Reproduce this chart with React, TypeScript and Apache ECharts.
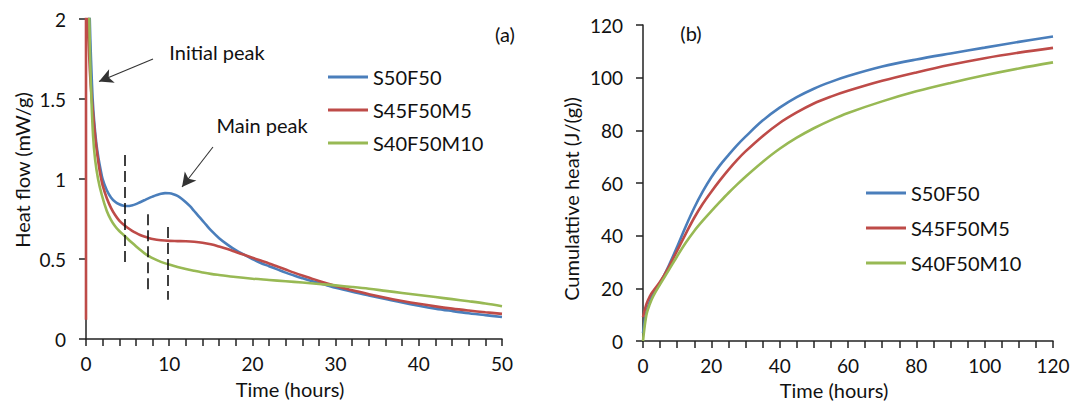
import React, { useEffect, useRef } from "react";
import * as echarts from "echarts";

// Series names shared by both panels
const seriesNames = ["S50F50", "S45F50M5", "S40F50M10"];
const seriesColors = ["#4A7EBB", "#BE4B48", "#98B954"];

// (a) Heat flow (mW/g) versus time (hours)
const flowTimeS50F50 = [0.3, 0.45, 0.6, 0.8, 1, 1.25, 1.5, 1.75, 2, 2.5, 3, 3.5, 4, 4.5, 5, 5.5, 6, 6.5, 7, 7.5, 8, 8.5, 9, 9.5, 10, 10.5, 11, 11.5, 12, 12.5, 13, 13.5, 14, 14.5, 15, 16, 17, 18, 19, 20, 21, 22, 23, 24, 25, 26, 27, 28, 29, 30, 32, 34, 36, 38, 40, 42, 44, 46, 48, 50];
const flowS50F50 = [2.4, 2.0, 1.75, 1.5, 1.35, 1.22, 1.13, 1.06, 1.0, 0.93, 0.885, 0.858, 0.842, 0.833, 0.831, 0.835, 0.843, 0.855, 0.867, 0.879, 0.89, 0.9, 0.908, 0.912, 0.911, 0.905, 0.894, 0.877, 0.855, 0.83, 0.8, 0.77, 0.74, 0.71, 0.68, 0.63, 0.59, 0.555, 0.527, 0.5, 0.475, 0.455, 0.435, 0.415, 0.397, 0.38, 0.364, 0.35, 0.335, 0.32, 0.295, 0.272, 0.25, 0.228, 0.208, 0.19, 0.175, 0.161, 0.149, 0.138];

const flowTimeS45F50M5 = [0, 0, 0.25, 0.4, 0.55, 0.7, 0.9, 1.2, 1.5, 1.75, 2, 2.5, 3, 3.5, 4, 4.5, 5, 5.5, 6, 6.5, 7, 7.5, 8, 9, 10, 11, 12, 13, 14, 15, 16, 17, 18, 19, 20, 21, 22, 23, 24, 25, 26, 27, 28, 29, 30, 32, 34, 36, 38, 40, 42, 44, 46, 48, 50];
const flowS45F50M5 = [0.12, 2.5, 2.0, 1.75, 1.6, 1.5, 1.38, 1.22, 1.1, 1.02, 0.96, 0.88, 0.82, 0.775, 0.74, 0.715, 0.695, 0.678, 0.663, 0.65, 0.64, 0.632, 0.625, 0.617, 0.613, 0.612, 0.611, 0.608, 0.602, 0.592, 0.578, 0.562, 0.544, 0.526, 0.508, 0.49, 0.472, 0.453, 0.434, 0.415, 0.397, 0.38, 0.363, 0.347, 0.332, 0.304, 0.28, 0.258, 0.238, 0.22, 0.204, 0.19, 0.178, 0.167, 0.157];

const flowTimeS40F50M10 = [0.3, 0.4, 0.5, 0.65, 0.85, 1.1, 1.45, 1.9, 2.5, 3, 3.5, 4, 4.5, 5, 5.5, 6, 6.5, 7, 7.5, 8, 9, 10, 11, 12, 13, 14, 15, 16, 18, 20, 22, 24, 26, 28, 30, 32, 34, 36, 38, 40, 42, 44, 46, 48, 50];
const flowS40F50M10 = [2.4, 2.0, 1.75, 1.5, 1.27, 1.12, 1.0, 0.9, 0.8, 0.745, 0.705, 0.675, 0.652, 0.627, 0.603, 0.58, 0.558, 0.537, 0.52, 0.505, 0.482, 0.465, 0.45, 0.437, 0.426, 0.416, 0.407, 0.4, 0.387, 0.377, 0.369, 0.361, 0.353, 0.344, 0.335, 0.325, 0.314, 0.301, 0.288, 0.275, 0.262, 0.249, 0.236, 0.222, 0.205];

// (b) Cumulative heat (J/g) versus time (hours)
const cumTime = [0, 1, 2, 3, 5, 7.5, 10, 12.5, 15, 17.5, 20, 22.5, 25, 27.5, 30, 35, 40, 45, 50, 55, 60, 70, 80, 90, 100, 110, 120];
const cumS50F50 = [3, 11, 15, 18, 22, 28.5, 35.8, 43.5, 50.6, 56.8, 62.2, 66.7, 70.6, 74.3, 77.6, 83.7, 88.6, 92.6, 95.8, 98.4, 100.6, 104.2, 106.9, 109.2, 111.4, 113.6, 115.6];
const cumS45F50M5 = [9, 14, 17, 19, 22.5, 28, 34.3, 40.7, 46.8, 52.1, 56.7, 61, 65, 68.7, 72, 77.8, 82.8, 86.8, 90.2, 92.8, 95, 98.8, 102, 104.9, 107.4, 109.5, 111.3];
const cumS40F50M10 = [0, 10, 14, 17, 21.5, 26.8, 32.2, 37.3, 41.8, 45.7, 49.3, 52.8, 56.2, 59.4, 62.4, 68, 73, 77.2, 80.8, 83.9, 86.6, 91, 94.8, 98, 100.9, 103.5, 105.8];

// Dashed markers on panel (a): [time, top, bottom]
const dashMarkers = [
  [4.6, 1.15, 0.45],
  [7.45, 0.78, 0.29],
  [9.85, 0.7, 0.245],
];

// Annotation arrows on panel (a): [fromX, fromY, toX, toY]
const arrowInitialPeak = [8.05, 1.75, 1.56, 1.61];
const arrowMainPeak = [15.26, 1.2, 11.54, 0.95];

const FONT = "Lato, 'Open Sans', sans-serif";
const TEXT = "#111111";
const AXIS = "#222222";

const zip = (xs: number[], ys: number[]) => xs.map((x, i) => [x, ys[i]]);

export default function App() {
  const ref = useRef<HTMLDivElement>(null);

  useEffect(() => {
    if (!ref.current) return;
    const chart = echarts.init(ref.current, undefined, { renderer: "svg" });

    const axisCommon = {
      axisLine: { show: true, lineStyle: { color: AXIS, width: 1.5 } },
      axisTick: { show: true, length: 7, lineStyle: { color: AXIS, width: 1.5 } },
      axisLabel: { color: TEXT, fontSize: 19, fontFamily: FONT },
      splitLine: { show: false },
    };

    const lineCommon = {
      type: "line" as const,
      showSymbol: false,
      symbol: "none",
      smooth: 0.35,
      clip: true,
      lineStyle: { width: 2.6 },
    };

    const flowData = [
      zip(flowTimeS50F50, flowS50F50),
      zip(flowTimeS45F50M5, flowS45F50M5),
      zip(flowTimeS40F50M10, flowS40F50M10),
    ];
    const cumData = [
      zip(cumTime, cumS50F50),
      zip(cumTime, cumS45F50M5),
      zip(cumTime, cumS40F50M10),
    ];

    const dashLines = dashMarkers.map(([x, y1, y2]) => [
      { coord: [x, y1] },
      { coord: [x, y2] },
    ]);
    const arrows = [arrowInitialPeak, arrowMainPeak].map(([x1, y1, x2, y2]) => [
      { coord: [x1, y1] },
      { coord: [x2, y2] },
    ]);

    const legendCommon = {
      data: seriesNames,
      orient: "vertical" as const,
      icon: "rect",
      itemWidth: 40,
      itemHeight: 3,
      padding: 0,
      textStyle: { color: TEXT, fontSize: 20, fontFamily: FONT, lineHeight: 20 },
    };

    const textEl = (text: string, x: number, y: number, rotation = 0) => ({
      type: "text",
      x,
      y,
      rotation,
      style: {
        text,
        fill: TEXT,
        font: `20px ${FONT}`,
        textAlign: "center",
        textVerticalAlign: "middle",
      },
    });

    chart.setOption({
      animation: false,
      backgroundColor: "#ffffff",
      color: seriesColors,
      grid: [
        { left: 86, top: 19, width: 416, height: 320 },
        { left: 643, top: 25, width: 410, height: 316 },
      ],
      xAxis: [
        {
          ...axisCommon,
          gridIndex: 0,
          type: "value",
          min: 0,
          max: 50,
          interval: 10,
          axisLabel: { ...axisCommon.axisLabel, margin: 15 },
          minorTick: { show: true, splitNumber: 5, length: 7, lineStyle: { color: AXIS, width: 1.5 } },
          minorSplitLine: { show: false },
        },
        {
          ...axisCommon,
          gridIndex: 1,
          type: "value",
          min: 0,
          max: 120,
          interval: 20,
          axisLabel: { ...axisCommon.axisLabel, margin: 15 },
          minorTick: { show: true, splitNumber: 4, length: 7, lineStyle: { color: AXIS, width: 1.5 } },
          minorSplitLine: { show: false },
        },
      ],
      yAxis: [
        {
          ...axisCommon,
          gridIndex: 0,
          type: "value",
          min: 0,
          max: 2,
          interval: 0.5,
          axisLabel: { ...axisCommon.axisLabel, margin: 20 },
        },
        {
          ...axisCommon,
          gridIndex: 1,
          type: "value",
          min: 0,
          max: 120,
          interval: 20,
          axisLabel: { ...axisCommon.axisLabel, margin: 20 },
        },
      ],
      legend: [
        { ...legendCommon, left: 328, top: 67, itemGap: 13 },
        { ...legendCommon, left: 866, top: 183, itemGap: 15 },
      ],
      series: [
        ...seriesNames.map((name, i) => ({
          ...lineCommon,
          name,
          xAxisIndex: 0,
          yAxisIndex: 0,
          data: flowData[i],
          z: 2 + i,
        })),
        ...seriesNames.map((name, i) => ({
          ...lineCommon,
          name,
          xAxisIndex: 1,
          yAxisIndex: 1,
          data: cumData[i],
          z: 2 + i,
        })),
        {
          type: "line",
          name: "markers",
          xAxisIndex: 0,
          yAxisIndex: 0,
          data: [],
          silent: true,
          z: 10,
          markLine: {
            silent: true,
            animation: false,
            label: { show: false },
            emphasis: { disabled: true },
            symbol: ["none", "none"],
            lineStyle: { color: "#111", width: 1.6, type: [11, 5] },
            data: dashLines,
          },
        },
        {
          type: "line",
          name: "arrows",
          xAxisIndex: 0,
          yAxisIndex: 0,
          data: [],
          silent: true,
          z: 10,
          markLine: {
            silent: true,
            animation: false,
            label: { show: false },
            emphasis: { disabled: true },
            symbol: ["none", "arrow"],
            symbolSize: [11, 14],
            lineStyle: { color: "#333", width: 1.1, type: "solid" },
            itemStyle: { color: "#111" },
            data: arrows,
          },
        },
      ],
      graphic: [
        textEl("Heat flow (mW/g)", 22, 170, Math.PI / 2),
        textEl("Time (hours)", 290, 389),
        textEl("Cumulattive heat (J/(g))", 571, 199, Math.PI / 2),
        textEl("Time (hours)", 834, 390),
        textEl("Initial peak", 217, 52),
        textEl("Main peak", 262, 125),
        textEl("(a)", 505, 34),
        textEl("(b)", 691, 33),
      ],
    });

    return () => chart.dispose();
  }, []);

  return (
    <div
      ref={ref}
      style={{ position: "fixed", left: 0, top: 0, width: 1073, height: 405, background: "#fff" }}
    />
  );
}
